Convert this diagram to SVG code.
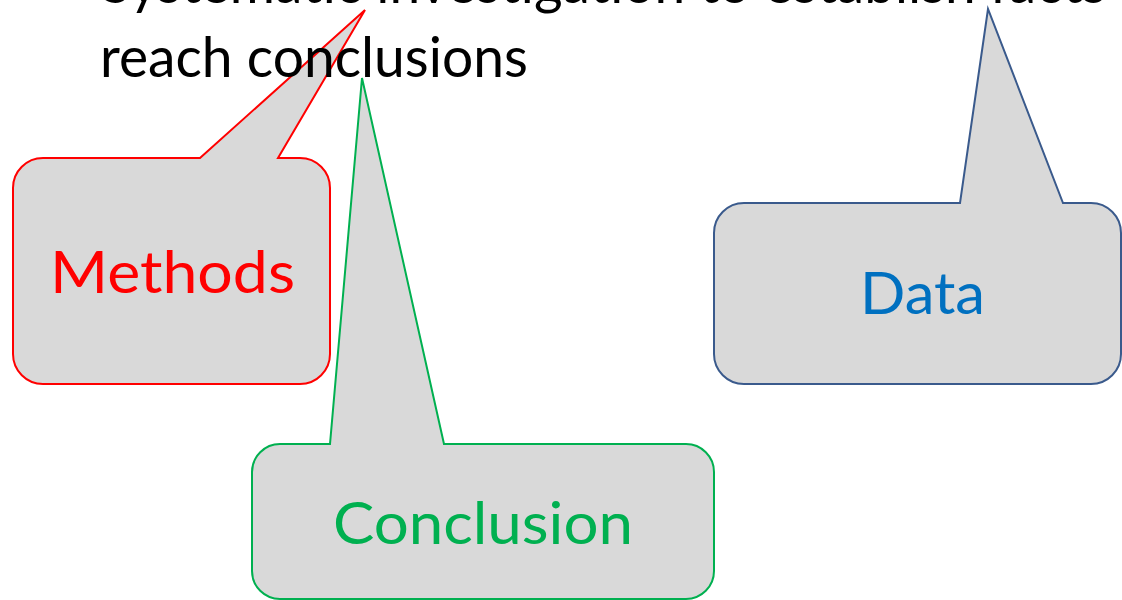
<svg xmlns="http://www.w3.org/2000/svg" width="1122" height="600" viewBox="0 0 1122 600">
  <style>
    .callout { fill: #D9D9D9; stroke-width: 2; stroke-linejoin: miter; }
    .lbl { font-family: Lato, "Liberation Sans", sans-serif; font-size: 58px; }
    .body { font-family: Lato, "Liberation Sans", sans-serif; font-size: 57px; fill: #000000; }
  </style>
  <rect width="1122" height="600" fill="#FFFFFF"/>
  <g id="connectors"></g>
  <g id="methods">
    <path class="callout" stroke="#FF0000" d="M 43,158 L 200,158 L 365,10 L 278,158 L 300,158 A 30 30 0 0 1 330,188 L 330,354 A 30 30 0 0 1 300,384 L 43,384 A 30 30 0 0 1 13,354 L 13,188 A 30 30 0 0 1 43,158 Z"/>
    <text class="lbl" x="50" y="293" fill="#FF0000" textLength="245" lengthAdjust="spacingAndGlyphs">Methods</text>
  </g>
  <g id="conclusion">
    <path class="callout" stroke="#00B050" d="M 280,444 L 330,444 L 362,78 L 444,444 L 686,444 A 28 28 0 0 1 714,472 L 714,571 A 28 28 0 0 1 686,599 L 280,599 A 28 28 0 0 1 252,571 L 252,472 A 28 28 0 0 1 280,444 Z"/>
    <text class="lbl" x="333" y="544" fill="#00B050" textLength="300" lengthAdjust="spacingAndGlyphs">Conclusion</text>
  </g>
  <g id="data">
    <path class="callout" stroke="#3A5A8C" d="M 744,203 L 960,203 L 988,9 L 1063,203 L 1091,203 A 30 30 0 0 1 1121,233 L 1121,354 A 30 30 0 0 1 1091,384 L 744,384 A 30 30 0 0 1 714,354 L 714,233 A 30 30 0 0 1 744,203 Z"/>
    <text class="lbl" x="860" y="314" fill="#0070C0" textLength="125" lengthAdjust="spacingAndGlyphs">Data</text>
  </g>
  <g id="definition">
    <text class="body" x="101" y="3" textLength="1005" lengthAdjust="spacingAndGlyphs">Systematic investigation to establish facts</text>
    <text class="body" x="100" y="77" textLength="428" lengthAdjust="spacingAndGlyphs">reach conclusions</text>
  </g>
</svg>
